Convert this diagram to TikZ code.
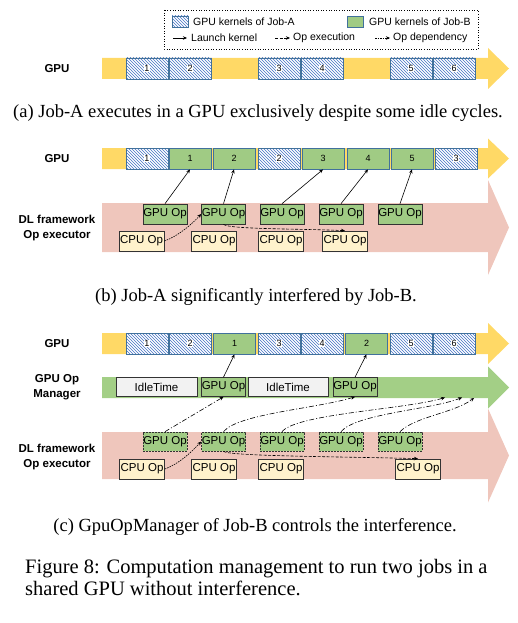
\documentclass[tikz,border=0pt]{standalone}
\usepackage{fontspec}
\setmainfont{Liberation Serif}
\setsansfont{Liberation Sans}
\usetikzlibrary{patterns,arrows.meta}
\definecolor{gold}{HTML}{FFD966}
\definecolor{pinkband}{HTML}{EFC6BC}
\definecolor{greenband}{HTML}{A3CF86}
\definecolor{kgreen}{HTML}{A0CB84}
\definecolor{kborder}{HTML}{41719C}
\definecolor{hatchblue}{HTML}{4472C4}
\definecolor{cpufill}{HTML}{FFF2CC}
\definecolor{idlefill}{HTML}{F2F2F2}
\newcommand\myband[4]{\fill[#1] (102,{#2-#3}) -- (488,{#2-#3}) -- (488,{#2-#4}) -- (509,#2) -- (488,{#2+#4}) -- (488,{#2+#3}) -- (102,{#2+#3}) -- cycle;}
\tikzset{
  knum/.style={fill=white, inner sep=0.3pt, font=\sffamily\fontsize{9}{9}\selectfont},
  kbase/.style={draw=kborder, line width=0.8pt, minimum width=42pt, minimum height=21pt, inner sep=0pt, font=\sffamily\fontsize{9}{9}\selectfont},
  hatchA/.style={preaction={fill=white}, pattern=north west lines, pattern color=hatchblue},
  kA/.style={kbase, hatchA, label={[knum]center:#1}},
  kB/.style={kbase, fill=kgreen},
  opbox/.style={draw=black!80, line width=0.7pt, minimum width=44pt, minimum height=20pt, inner sep=0pt, font=\sffamily\fontsize{11.5}{12}\selectfont},
  gop/.style={opbox, fill=kgreen},
  gopd/.style={gop, dash pattern=on 2pt off 1pt},
  cop/.style={opbox, fill=cpufill, minimum width=45pt},
  idle/.style={opbox, fill=idlefill, minimum height=19pt},
  rowlabel/.style={font=\sffamily\bfseries\fontsize{11.5}{15}\selectfont, align=center},
  legtext/.style={anchor=west, inner sep=0pt, font=\sffamily\fontsize{10.5}{12}\selectfont},
  captext/.style={font=\fontsize{18.5}{21}\selectfont, inner sep=0pt},
  launch/.style={-{Stealth[length=4pt,width=3.5pt]}, line width=0.6pt},
  exec/.style={launch, dash pattern=on 3pt off 1.5pt},
  dep/.style={launch, dash pattern=on 1.5pt off 1pt},
  mgr/.style={launch, dash pattern=on 5pt off 2pt on 1pt off 2pt},
}
\begin{document}
\begin{tikzpicture}[x=1pt,y=-1pt]
\useasboundingbox (0,0) rectangle (518,623);
% ---------- legend
\draw[dotted, line width=0.6pt] (164,10) rectangle (478,49);
\node[kbase, hatchA, minimum width=16pt, minimum height=11pt] (swA) at (180,21.5) {};
\node[legtext] (tA) at (193,22) {GPU kernels of Job-A};
\node[kbase, fill=kgreen, minimum width=16pt, minimum height=11pt] (swB) at (355.5,21.5) {};
\node[legtext] (tB) at (369,22) {GPU kernels of Job-B};
\coordinate (l1s) at (173,38); \coordinate (l1e) at (187,38);
\draw[launch] (l1s) -- (l1e);
\node[legtext] (tL) at (191,38) {Launch kernel};
\coordinate (l2s) at (275,38); \coordinate (l2e) at (290,38);
\draw[exec] (l2s) -- (l2e);
\node[legtext] (tE) at (293,38) {Op execution};
\coordinate (l3s) at (375,38); \coordinate (l3e) at (390,38);
\draw[dep] (l3s) -- (l3e);
\node[legtext] (tD) at (393,38) {Op dependency};
% ---------- (a)
\myband{gold}{68.5}{10.5}{20.5}
\node[rowlabel] (la) at (57,69) {GPU};
\node[kA=1] (a1) at (147,68.5) {};
\node[kA=2] (a2) at (190,68.5) {};
\node[kA=3] (a3) at (279,68.5) {};
\node[kA=4] (a4) at (322,68.5) {};
\node[kA=5] (a5) at (411,68.5) {};
\node[kA=6] (a6) at (454,68.5) {};
\node[captext] (capa) at (258,113) {(a) Job-A executes in a GPU exclusively despite some idle cycles.};
% ---------- (b)
\myband{pinkband}{227.5}{24.5}{47.5}
\myband{gold}{158.5}{10.5}{20}
\node[rowlabel] (lb1) at (57,159) {GPU};
\node[rowlabel] (lb2) at (57,228) {DL framework\\Op executor};
\node[kA=1] (ba1) at (147,158.5) {};
\node[kB] (bb1) at (190,158.5) {1};
\node[kB] (bb2) at (234,158.5) {2};
\node[kA=2] (ba2) at (279,158.5) {};
\node[kB] (bb3) at (323,158.5) {3};
\node[kB] (bb4) at (368,158.5) {4};
\node[kB] (bb5) at (412,158.5) {5};
\node[kA=3] (ba3) at (456,158.5) {};
\node[gop] (gb1) at (165,214) {GPU Op};
\node[gop] (gb2) at (223.5,214) {GPU Op};
\node[gop] (gb3) at (282,214) {GPU Op};
\node[gop] (gb4) at (341,214) {GPU Op};
\node[gop] (gb5) at (400,214) {GPU Op};
\node[cop] (cb1) at (141.5,241) {CPU Op};
\node[cop] (cb2) at (214,241) {CPU Op};
\node[cop] (cb3) at (281,241) {CPU Op};
\node[cop] (cb4) at (345,241) {CPU Op};
\draw[launch] (gb1.north) -- (bb1.south);
\draw[launch] (gb2.north) -- (bb2.south);
\draw[launch] (gb3.north) -- (bb3.south);
\draw[launch] (gb4.north) -- (bb4.south);
\draw[launch] (gb5.north) -- (bb5.south);
\draw[dep] (cb1.east) .. controls +(14,-5) and +(-9,10) .. (gb2.west);
\draw[exec] (gb2.south) .. controls +(5,5) and +(-45,-2) .. (cb4.north);
\node[captext] (capb) at (256,297) {(b) Job-A significantly interfered by Job-B.};
% ---------- (c)
\myband{pinkband}{455.5}{23.5}{47}
\myband{greenband}{387.5}{10.5}{21}
\myband{gold}{343.5}{10.5}{20.5}
\node[rowlabel] (lc1) at (57,343.5) {GPU};
\node[rowlabel] (lc2) at (57,387) {GPU Op\\Manager};
\node[rowlabel] (lc3) at (57,457.5) {DL framework\\Op executor};
\node[kA=1] (ca1) at (147,343.5) {};
\node[kA=2] (ca2) at (190,343.5) {};
\node[kB] (cg1) at (234.5,343.5) {1};
\node[kA=3] (ca3) at (279,343.5) {};
\node[kA=4] (ca4) at (322,343.5) {};
\node[kB] (cg2) at (366.5,343.5) {2};
\node[kA=5] (ca5) at (411,343.5) {};
\node[kA=6] (ca6) at (454,343.5) {};
\node[idle, minimum width=81pt] (id1) at (156.5,387) {IdleTime};
\node[gop, minimum height=19pt] (mg1) at (223.5,387) {GPU Op};
\node[idle, minimum width=80pt] (id2) at (288,387) {IdleTime};
\node[gop, minimum height=19pt] (mg2) at (355,387) {GPU Op};
\node[gopd, minimum height=19pt] (gc1) at (165,441.5) {GPU Op};
\node[gopd, minimum height=19pt] (gc2) at (223.5,441.5) {GPU Op};
\node[gopd, minimum height=19pt] (gc3) at (282,441.5) {GPU Op};
\node[gopd, minimum height=19pt] (gc4) at (341,441.5) {GPU Op};
\node[gopd, minimum height=19pt] (gc5) at (400,441.5) {GPU Op};
\node[cop] (cc1) at (142,469) {CPU Op};
\node[cop] (cc2) at (214,469) {CPU Op};
\node[cop] (cc3) at (281,469) {CPU Op};
\node[cop] (cc4) at (418,469) {CPU Op};
\draw[launch] (mg1.north) -- (cg1.south);
\draw[launch] (mg2.north) -- (cg2.south);
\coordinate (q3) at (445,397.5);
\coordinate (q4) at (462,397.5);
\coordinate (q5) at (474,398);
\draw[mgr] (gc1.north) -- (mg1.south);
\draw[mgr] (gc2.north) .. controls +(15,-18) and +(-40,12) .. (mg2.south);
\draw[mgr] (gc3.north) .. controls +(15,-18) and +(-40,12) .. (q3);
\draw[mgr] (gc4.north) .. controls +(15,-18) and +(-30,12) .. (q4);
\draw[mgr] (gc5.north) .. controls +(15,-15) and +(-20,15) .. (q5);
\draw[dep] (cc1.east) .. controls +(14,-5) and +(-9,10) .. (gc2.west);
\draw[exec] (gc2.south) .. controls +(5,5) and +(-70,-2) .. (cc4.north);
\node[captext] (capc) at (255,527) {(c) GpuOpManager of Job-B controls the interference.};
% ---------- figure caption
\node[anchor=west, align=left, inner sep=0pt, font=\fontsize{20.5}{22}\selectfont] (fig) at (25,578) {Figure 8: Computation management to run two jobs in a\\shared GPU without interference.};
\end{tikzpicture}
\end{document}
